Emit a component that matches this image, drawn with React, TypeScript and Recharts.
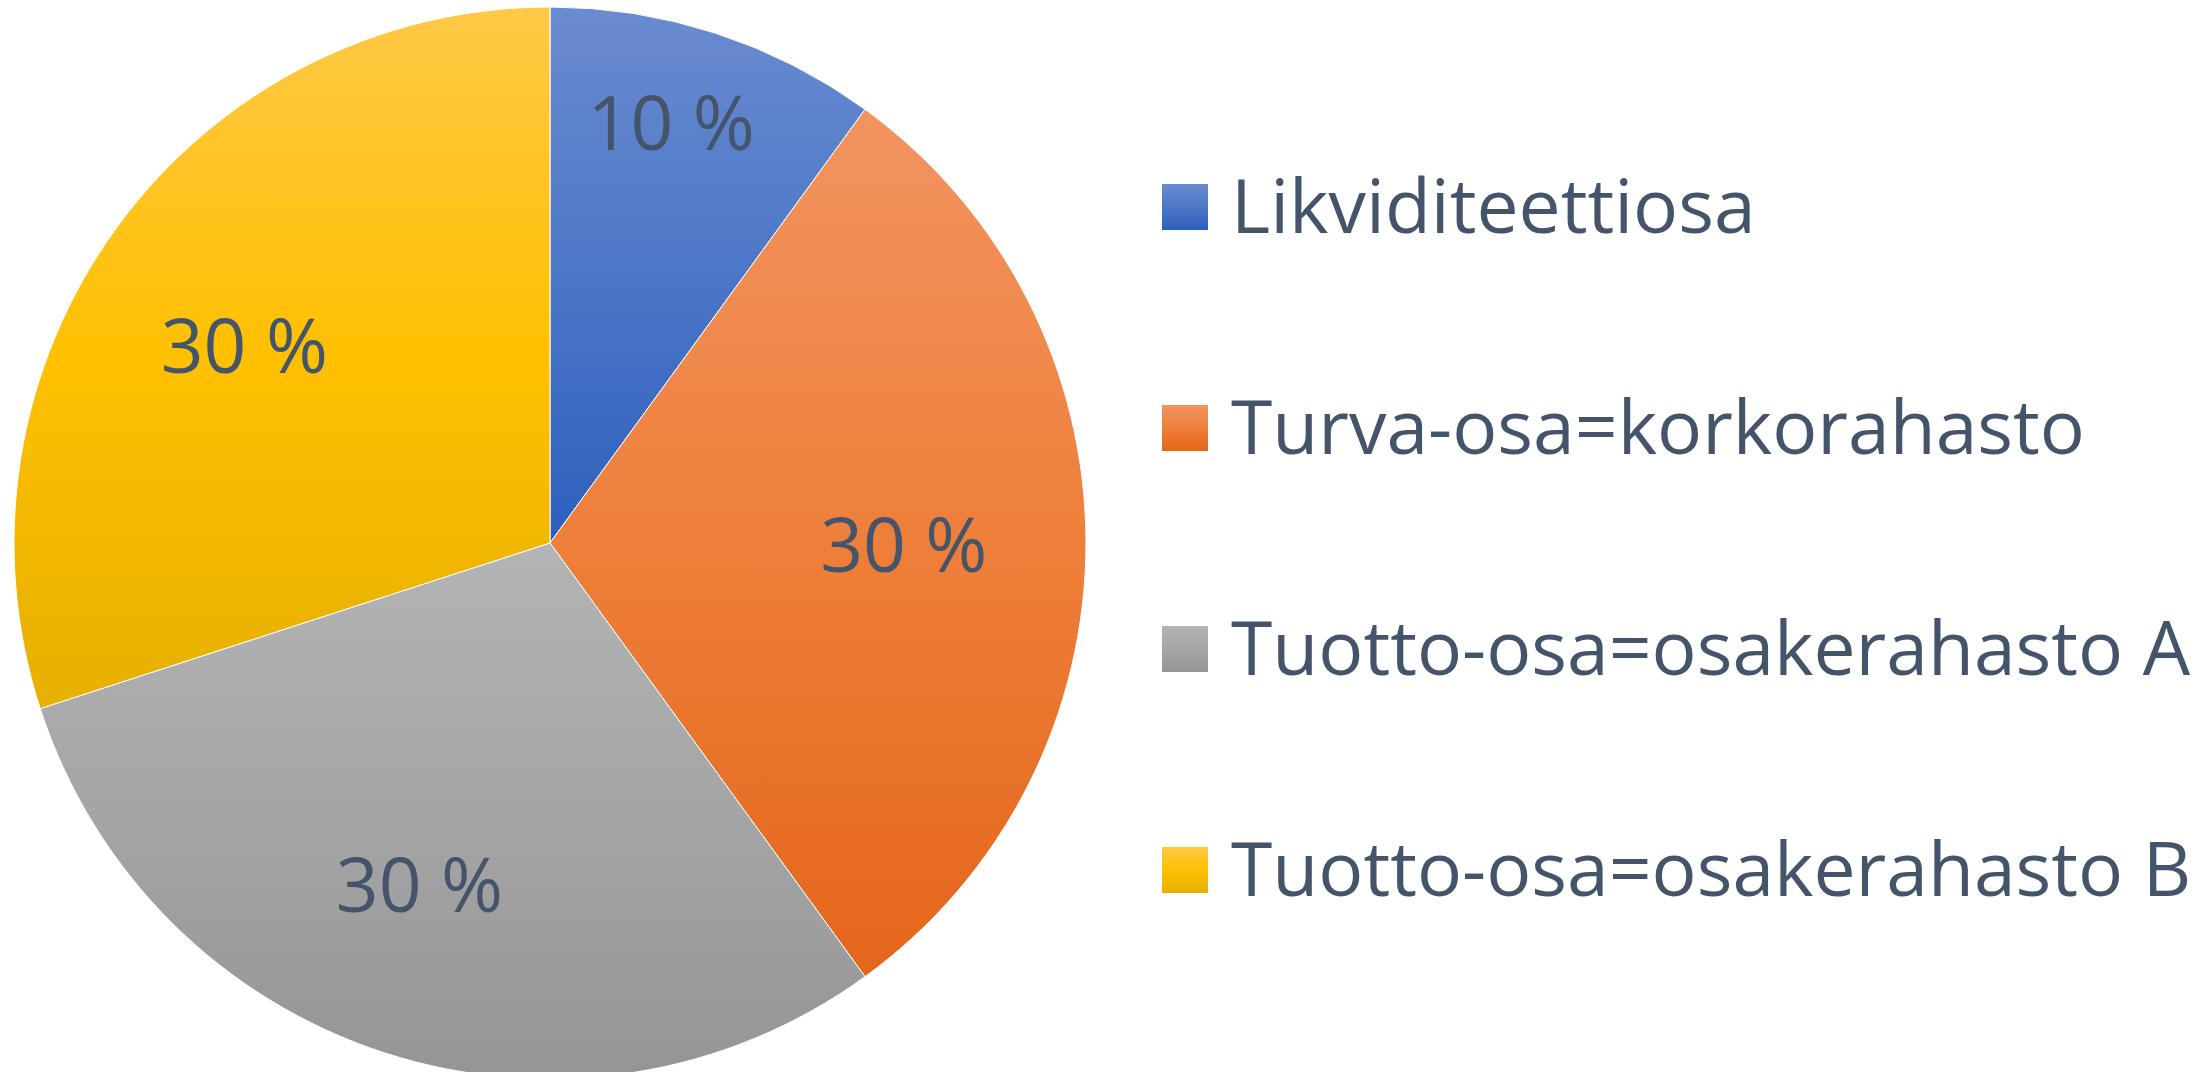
import { PieChart, Pie, Cell } from "recharts";

const categories = [
  "Likviditeettiosa",
  "Turva-osa=korkorahasto",
  "Tuotto-osa=osakerahasto A",
  "Tuotto-osa=osakerahasto B",
];
const shares = [10, 30, 30, 30];

const data = categories.map((name, i) => ({ name, value: shares[i] }));

// gradient stops per slice: top, middle, bottom
const gradients = [
  ["#6A8BD0", "#4C77C7", "#2E5FBE"],
  ["#F29461", "#EE7F3A", "#E4661A"],
  ["#B4B4B4", "#A5A5A5", "#959595"],
  ["#FFC846", "#FFC000", "#E6B000"],
];

const TEXT = "#44546A";
const FONT = "'Open Sans', 'Noto Sans', sans-serif";
const RAD = Math.PI / 180;

// Excel "best fit" puts the labels a bit off the mid-angle
const labelPlacement = [
  { r: 0.82, shift: 2 },
  { r: 0.66, shift: 0 },
  { r: 0.68, shift: -3 },
  { r: 0.68, shift: 3 },
];

function renderLabel(props: any) {
  const { cx, cy, midAngle, outerRadius, percent, index } = props;
  const p = labelPlacement[index];
  const a = (midAngle + p.shift) * RAD;
  const x = cx + outerRadius * p.r * Math.cos(a);
  const y = cy - outerRadius * p.r * Math.sin(a);
  return (
    <text
      x={x}
      y={y}
      fill={TEXT}
      fontSize={75}
      fontFamily={FONT}
      textAnchor="middle"
      dominantBaseline="central"
    >
      {`${Math.round(percent * 100)} %`}
    </text>
  );
}

function ChartLegend() {
  return (
    <div style={{ position: "absolute", left: 1162, top: 96, fontFamily: FONT }}>
      {categories.map((c, i) => (
        <div key={c} style={{ height: 221, display: "flex", alignItems: "center" }}>
          <div
            style={{
              width: 46,
              height: 46,
              background: `linear-gradient(${gradients[i][0]}, ${gradients[i][1]}, ${gradients[i][2]})`,
              marginRight: 23,
              flexShrink: 0,
            }}
          />
          <span
            style={{
              fontSize: 75,
              lineHeight: 1,
              color: TEXT,
              whiteSpace: "nowrap",
              position: "relative",
              top: -2,
            }}
          >
            {c}
          </span>
        </div>
      ))}
    </div>
  );
}

export default function App() {
  return (
    <div
      style={{
        position: "relative",
        width: 2211,
        height: 1072,
        overflow: "hidden",
        background: "#fff",
      }}
    >
      <style>{`body{margin:0}`}</style>
      <PieChart width={2211} height={1072} margin={{ top: 0, right: 0, bottom: 0, left: 0 }}>
        <defs>
          {gradients.map((g, i) => (
            <linearGradient key={i} id={`slice-${i}`} x1="0" y1="0" x2="0" y2="1">
              <stop offset="0%" stopColor={g[0]} />
              <stop offset="50%" stopColor={g[1]} />
              <stop offset="100%" stopColor={g[2]} />
            </linearGradient>
          ))}
        </defs>
        <Pie
          data={data}
          dataKey="value"
          nameKey="name"
          cx={550}
          cy={543}
          outerRadius={536}
          startAngle={90}
          endAngle={-270}
          stroke="#fff"
          strokeWidth={1}
          label={renderLabel}
          labelLine={false}
          isAnimationActive={false}
        >
          {data.map((d, i) => (
            <Cell key={d.name} fill={`url(#slice-${i})`} />
          ))}
        </Pie>
      </PieChart>
      <ChartLegend />
    </div>
  );
}
